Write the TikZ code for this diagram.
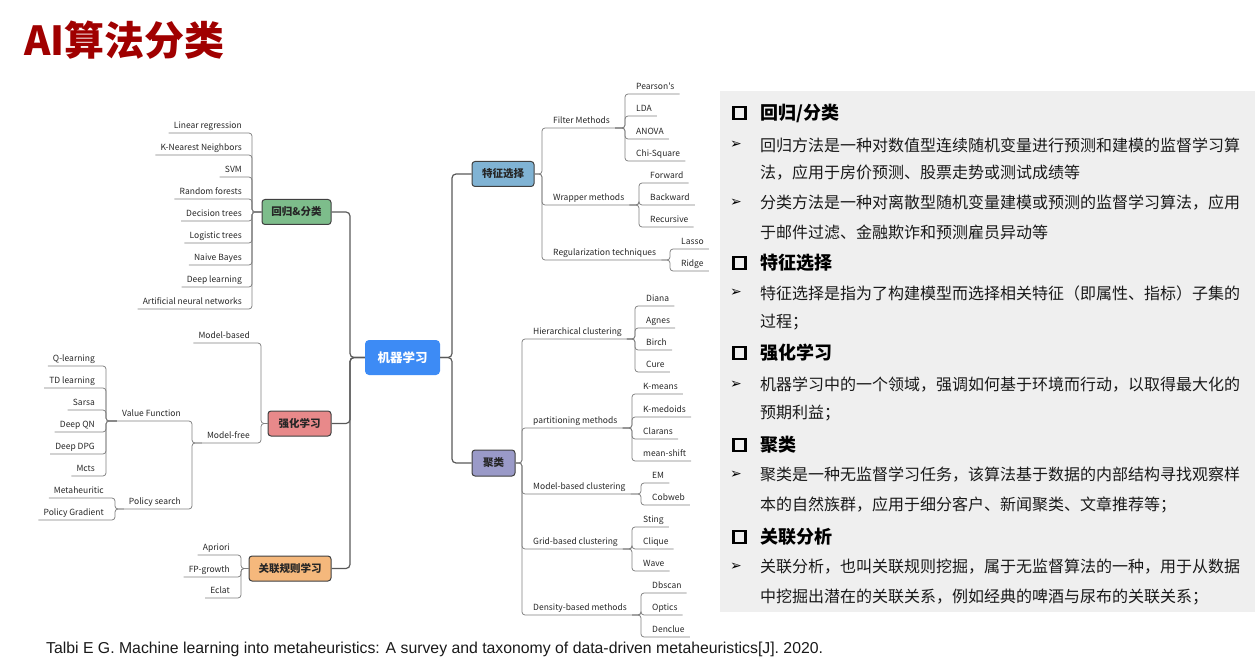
\documentclass[tikz,border=0pt]{standalone}
\usepackage{fontspec}
\setmainfont{Noto Sans CJK SC}[Ligatures=TeXOff]
\newfontfamily\reffont{Liberation Sans}
\newfontfamily\dingfont{DejaVu Sans}
\definecolor{titlered}{HTML}{A00000}
\definecolor{mlblue}{HTML}{3D8BF5}
\definecolor{rcgreen}{HTML}{7DBD8B}
\definecolor{rlpink}{HTML}{E8898A}
\definecolor{arorange}{HTML}{F5B87C}
\definecolor{fsblue}{HTML}{80B3D4}
\definecolor{clpurple}{HTML}{9A9AC8}
\definecolor{panelgray}{HTML}{EFEFEF}
\tikzset{
  leaf/.style={font=\fontsize{8.5}{10}\selectfont, text=black!85, inner xsep=5pt, inner ysep=0pt,
    text height=7pt, text depth=2pt, minimum height=14.5pt},
  twig/.style={draw=black!50, line width=0.75pt, rounded corners=3pt},
  trunk/.style={draw=black!65, line width=1.2pt, rounded corners=4pt},
  topic/.style={draw=black!75, line width=1pt, rounded corners=3pt, minimum height=25pt, inner sep=0pt,
    font=\fontsize{10.5}{12}\selectfont\bfseries, text=black!85},
  headline/.style={anchor=west, inner sep=0pt, font=\fontsize{18}{20}\selectfont\bfseries, text=black},
  bodyline/.style={anchor=west, inner sep=0pt, font=\fontsize{16}{18}\selectfont, text=black!90},
  tick/.style={inner sep=0pt, font=\dingfont\fontsize{14}{15}\selectfont}
}
\begin{document}
\begin{tikzpicture}[x=1pt,y=-1pt]
\useasboundingbox (0,0) rectangle (1255,668);
\fill[panelgray] (720,91) rectangle (1255,612);
\node[anchor=west, inner sep=0pt, text=titlered, font=\fontsize{40}{42}\selectfont\bfseries] (title) at (24,40) {AI算法分类};

% centre and topics
\node[fill=mlblue, rounded corners=4pt, minimum width=75pt, minimum height=35pt, text=white,
  font=\fontsize{12.5}{14}\selectfont\bfseries] (ml) at (402.5,357.5) {机器学习};
\node[topic, fill=rcgreen, minimum width=69pt] (rc) at (296.5,212) {回归\&分类};
\node[topic, fill=rlpink, minimum width=63pt] (rl) at (299.5,423.5) {强化学习};
\node[topic, fill=arorange, minimum width=82pt] (ar) at (290,568.5) {关联规则学习};
\node[topic, fill=fsblue, minimum width=62pt] (fs) at (503,174) {特征选择};
\node[topic, fill=clpurple, minimum width=43pt, minimum height=26pt] (cl) at (493.5,463) {聚类};

% left leaves
\foreach \n/\t/\u in {lr/Linear regression/133, knn/K-Nearest Neighbors/155, svm/SVM/177,
  rf/Random forests/199, dt/Decision trees/221, lt/Logistic trees/243, nb/Naive Bayes/265,
  dl/Deep learning/287, ann/Artificial neural networks/309}
  \node[leaf, anchor=south east] (\n) at (247,\u) {\t};
\foreach \n/\t/\u in {mb/Model-based/343, mf/Model-free/443}
  \node[leaf, anchor=south east] (\n) at (255,\u) {\t};
\foreach \n/\t/\u in {vf/Value Function/421, ps/Policy search/509}
  \node[leaf, anchor=south east] (\n) at (186,\u) {\t};
\foreach \n/\t/\u in {ql/Q-learning/366, tdl/TD learning/388, sarsa/Sarsa/410, dqn/Deep QN/432,
  ddpg/Deep DPG/454, mcts/Mcts/476}
  \node[leaf, anchor=south east] (\n) at (100,\u) {\t};
\foreach \n/\t/\u in {meta/Metaheuritic/498, pg/Policy Gradient/520}
  \node[leaf, anchor=south east] (\n) at (109,\u) {\t};
\foreach \n/\t/\u in {apri/Apriori/555, fpg/FP-growth/577, eclat/Eclat/598}
  \node[leaf, anchor=south east] (\n) at (235,\u) {\t};

% right leaves
\foreach \n/\t/\u in {filt/Filter Methods/128, wrap/Wrapper methods/205, reg/Regularization techniques/260}
  \node[leaf, anchor=south west] (\n) at (548,\u) {\t};
\foreach \n/\t/\u in {pear/Pearson's/94, lda/LDA/116, anova/ANOVA/139, chi/Chi-Square/161}
  \node[leaf, anchor=south west] (\n) at (631,\u) {\t};
\foreach \n/\t/\u in {fwd/Forward/183, bwd/Backward/205, rec/Recursive/227}
  \node[leaf, anchor=south west] (\n) at (645,\u) {\t};
\foreach \n/\t/\u in {lasso/Lasso/249, ridge/Ridge/271}
  \node[leaf, anchor=south west] (\n) at (676,\u) {\t};
\foreach \n/\t/\u in {hier/Hierarchical clustering/339, part/partitioning methods/428,
  mbc/Model-based clustering/494, grid/Grid-based clustering/549, dens/Density-based methods/615}
  \node[leaf, anchor=south west] (\n) at (528,\u) {\t};
\foreach \n/\t/\u in {diana/Diana/306, agnes/Agnes/328, birch/Birch/350, cure/Cure/372}
  \node[leaf, anchor=south west] (\n) at (641,\u) {\t};
\foreach \n/\t/\u in {kmeans/K-means/394, kmed/K-medoids/417, clar/Clarans/439, msh/mean-shift/461}
  \node[leaf, anchor=south west] (\n) at (638,\u) {\t};
\foreach \n/\t/\u in {em/EM/483, cob/Cobweb/505}
  \node[leaf, anchor=south west] (\n) at (647,\u) {\t};
\foreach \n/\t/\u in {sting/Sting/527, cliq/Clique/549, wave/Wave/571}
  \node[leaf, anchor=south west] (\n) at (638,\u) {\t};
\foreach \n/\t/\u in {dbs/Dbscan/593, opt/Optics/615, denc/Denclue/637}
  \node[leaf, anchor=south west] (\n) at (647,\u) {\t};

% edges
\foreach \b in {rc,rl,ar} \draw[trunk] (ml.west) -- (ml.west -| 350,0) |- (\b.east);
\foreach \b in {fs,cl} \draw[trunk] (ml.east) -- (ml.east -| 452,0) |- (\b.west);
\foreach \p/\bx/\kids in {rc.west/252/{lr,knn,svm,rf,dt,lt,nb,dl,ann}, rl.west/261/{mb,mf},
  mf.south west/192/{vf,ps}, vf.south west/106/{ql,tdl,sarsa,dqn,ddpg,mcts},
  ps.south west/115/{meta,pg}, ar.west/241/{apri,fpg,eclat}}
  \foreach \n in \kids \draw[twig] (\n.south west) -- (\n.south -| \bx,0) |- (\p);
\foreach \p/\bx/\kids in {fs.east/542/{filt,wrap,reg}, filt.south east/625/{pear,lda,anova,chi},
  wrap.south east/639/{fwd,bwd,rec}, reg.south east/670/{lasso,ridge},
  cl.east/522/{hier,part,mbc,grid,dens}, hier.south east/635/{diana,agnes,birch,cure},
  part.south east/632/{kmeans,kmed,clar,msh}, mbc.south east/641/{em,cob},
  grid.south east/632/{sting,cliq,wave}, dens.south east/641/{dbs,opt,denc}}
  \foreach \n in \kids \draw[twig] (\n.south east) -- (\n.south -| \bx,0) |- (\p);

% text panel
\foreach \y in {113,263,353,445,537} \draw[line width=2.6pt] (733.5,\y-6) rectangle (745.5,\y+6);
\node[headline] (h1) at (760,113) {回归/分类};
\node[headline] (h2) at (760,263) {特征选择};
\node[headline] (h3) at (760,353) {强化学习};
\node[headline] (h4) at (760,445) {聚类};
\node[headline] (h5) at (760,537) {关联分析};
\foreach \k/\y in {1/145,2/203,3/293,4/385,5/475,6/567} \node[tick] (tk\k) at (736,\y) {➢};
\foreach \k/\y/\t in {1/145/回归方法是一种对数值型连续随机变量进行预测和建模的监督学习算,
  2/173/法，应用于房价预测、股票走势或测试成绩等,
  3/203/分类方法是一种对离散型随机变量建模或预测的监督学习算法，应用,
  4/232/于邮件过滤、金融欺诈和预测雇员异动等,
  5/293/特征选择是指为了构建模型而选择相关特征（即属性、指标）子集的,
  6/322/过程；,
  7/385/机器学习中的一个领域，强调如何基于环境而行动，以取得最大化的,
  8/413/预期利益；,
  9/475/聚类是一种无监督学习任务，该算法基于数据的内部结构寻找观察样,
  10/505/本的自然族群，应用于细分客户、新闻聚类、文章推荐等；,
  11/567/关联分析，也叫关联规则挖掘，属于无监督算法的一种，用于从数据,
  12/597/中挖掘出潜在的关联关系，例如经典的啤酒与尿布的关联关系；}
  \node[bodyline] (b\k) at (760,\y) {\t};

\node[anchor=west, inner sep=0pt, text=black!90, font=\reffont\fontsize{15.8}{17}\selectfont] (cite)
  at (46,649) {Talbi E G. Machine learning into metaheuristics: A survey and taxonomy of data-driven metaheuristics[J]. 2020.};
\end{tikzpicture}
\end{document}
